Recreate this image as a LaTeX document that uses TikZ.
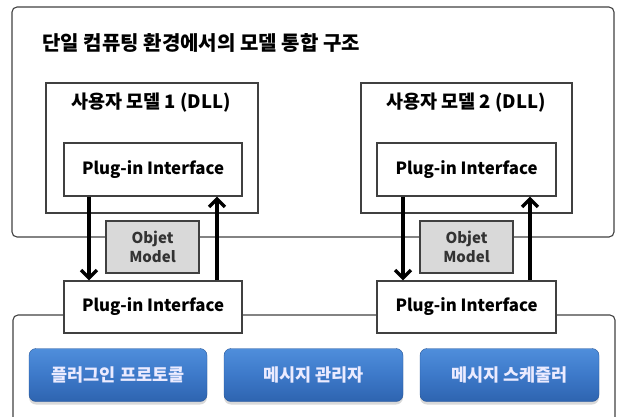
\documentclass[tikz,border=0pt]{standalone}
\usepackage{fontspec}
\setmainfont{Noto Sans CJK KR}
\usetikzlibrary{arrows.meta,shadows}
\definecolor{edge}{HTML}{404040}
\definecolor{objfill}{HTML}{D9D9D9}
\definecolor{btntop}{HTML}{4F8EDB}
\definecolor{btnmid}{HTML}{3D79C9}
\definecolor{btnbot}{HTML}{2E64B0}
\tikzset{
  frame/.style={draw=edge, line width=1.1pt, rounded corners=5pt},
  module/.style={draw=edge, line width=1.1pt, fill=white},
  iface/.style={draw=edge, line width=1.1pt, fill=white, font=\bfseries\fontsize{16.8}{18}\selectfont},
  objbox/.style={draw=edge, line width=1.1pt, fill=objfill, align=center,
    font=\bfseries\fontsize{15}{19}\selectfont, text=black!80},
  btn/.style={rounded corners=7pt, top color=btntop, bottom color=btnbot, middle color=btnmid,
    draw=btnbot!85!black, line width=0.4pt, text=white!92!blue, font=\bfseries\fontsize{17.5}{19}\selectfont,
    drop shadow={shadow xshift=0pt, shadow yshift=-3pt, opacity=0.3}},
  flow/.style={line width=4.2pt, -{Straight Barb[length=8pt,width=16pt,line width=3.4pt]}},
}
\begin{document}
\begin{tikzpicture}[x=1pt,y=-1pt]
\useasboundingbox (0,0) rectangle (618,416);
% upper frame: single computing environment
\draw[frame] (12,7) rectangle (614,237);
\node[anchor=west, font=\bfseries\fontsize{20}{22}\selectfont] (title) at (39,43) {단일 컴퓨팅 환경에서의 모델 통합 구조};
% lower frame: runtime services
\draw[frame] (13,430) -- (13,315) -- (615,315) -- (615,430);
% user model DLLs
\draw[module] (46,83) rectangle (258,213);
\draw[module] (361,83) rectangle (572,213);
\node[font=\bfseries\fontsize{18.5}{20}\selectfont] (m1) at (151,103) {사용자 모델 1 (DLL)};
\node[font=\bfseries\fontsize{18.5}{20}\selectfont] (m2) at (466,103) {사용자 모델 2 (DLL)};
% plug-in interfaces
\node[iface, minimum width=178pt, minimum height=53pt] (pu1) at (153,169.5) {Plug-in Interface};
\node[iface, minimum width=179pt, minimum height=53pt] (pu2) at (466.5,169.5) {Plug-in Interface};
\node[iface, minimum width=178pt, minimum height=52pt] (pl1) at (153,307) {Plug-in Interface};
\node[iface, minimum width=179pt, minimum height=52pt] (pl2) at (466.5,307) {Plug-in Interface};
% object models
\node[objbox, minimum width=93pt, minimum height=52pt, inner sep=1pt] (o1) at (152.5,247) {Objet\\Model};
\node[objbox, minimum width=93pt, minimum height=52pt, inner sep=1pt] (o2) at (466.5,247) {Objet\\Model};
% data flow between model and host
\draw[flow] (pu1.south -| 89,0) -- (pl1.north -| 89,0);
\draw[flow] (pl1.north -| 217,0) -- (pu1.south -| 217,0);
\draw[flow] (pu2.south -| 403,0) -- (pl2.north -| 403,0);
\draw[flow] (pl2.north -| 530,0) -- (pu2.south -| 530,0);
% host services
\node[btn, minimum width=178pt, minimum height=53pt] (b1) at (118,375) {플러그인 프로토콜};
\node[btn, minimum width=179pt, minimum height=53pt] (b2) at (313.5,375) {메시지 관리자};
\node[btn, minimum width=179pt, minimum height=53pt] (b3) at (509.5,375) {메시지 스케줄러};
\end{tikzpicture}
\end{document}
